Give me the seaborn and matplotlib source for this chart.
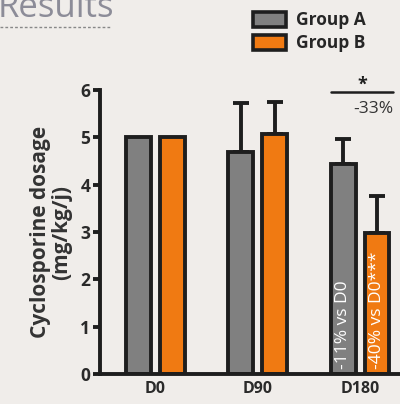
import matplotlib
matplotlib.use('Agg')
import matplotlib.pyplot as plt
import matplotlib.patches as mpatches
import seaborn as sns
import pandas as pd

# data
days = ['D0', 'D90', 'D180']
group_a = [5.0, 4.69, 4.44]
group_b = [5.0, 5.07, 2.98]
err_a = [0.0, 1.04, 0.53]
err_b = [0.0, 0.68, 0.78]
groups = ['Group A', 'Group B']

background = '#f0edea'
edge = '#1e1e1e'
colors = {'Group A': '#808080', 'Group B': '#f07a12'}

sns.set_style('ticks')
plt.rcParams['font.family'] = ['Open Sans', 'DejaVu Sans']

df = pd.DataFrame({
    'day': days * 2,
    'group': ['Group A'] * 3 + ['Group B'] * 3,
    'dose': group_a + group_b,
})

fig = plt.figure(figsize=(4, 4.04), dpi=100)
fig.set_facecolor(background)
ax = fig.add_axes([0.25, 0.074, 0.75, 0.703])
ax.patch.set_facecolor(background)

sns.barplot(data=df, x='day', y='dose', hue='group', order=days,
            hue_order=groups, palette=colors, saturation=1, errorbar=None,
            width=0.66, gap=0.27, edgecolor=edge, linewidth=2.8,
            legend=False, ax=ax, zorder=2)

# upper-only error bars from the bar centres seaborn placed
for patch, top, err in zip(ax.patches, group_a + group_b, err_a + err_b):
    if err > 0:
        xc = patch.get_x() + patch.get_width() / 2
        ax.errorbar(xc, top, yerr=[[0], [err]], fmt='none', ecolor=edge,
                    elinewidth=2.8, capsize=5.5, capthick=2.8, zorder=1)

ax.set_ylim(0, 6)
ax.set_xlim(-0.54, 2.39)
ax.set_xlabel('')
ax.set_ylabel('Cyclosporine dosage\n(mg/kg/j)', fontsize=15,
              fontweight='bold', color='#333333', labelpad=6, linespacing=1.0)
ax.set_yticks(range(7))
ax.tick_params(axis='y', width=2.8, length=5, labelsize=12.5, colors=edge, pad=2)
ax.tick_params(axis='x', length=0, labelsize=11.5, pad=5)
for lab in ax.get_yticklabels() + ax.get_xticklabels():
    lab.set_fontweight('bold')
    lab.set_color('#2a2a2a')
for side in ['left', 'bottom']:
    ax.spines[side].set_linewidth(2.8)
    ax.spines[side].set_color(edge)
ax.spines['top'].set_visible(False)
ax.spines['right'].set_visible(False)

# labels inside the D180 bars
pa, pb = ax.patches[2], ax.patches[5]
ax.text(pa.get_x() + pa.get_width() / 2, 0.1, '-11% vs D0', rotation=90,
        color='white', fontsize=12.5, ha='center', va='bottom')
ax.text(pb.get_x() + pb.get_width() / 2, 0.1, '-40% vs D0***', rotation=90,
        color='white', fontsize=12.5, ha='center', va='bottom')

# significance bracket
x0 = pa.get_x() + 0.0
x1 = pb.get_x() + pb.get_width() + 0.04
ax.plot([x0, x1], [5.97, 5.97], color=edge, lw=1.8, clip_on=False)
ax.text((x0 + x1) / 2, 6.12, '*', ha='center', va='center', fontsize=13,
        color=edge, fontweight='bold')
ax.text(x1, 5.6, '-33%', ha='right', va='center', fontsize=12.5, color='#333333')

# legend
handles = [mpatches.Patch(facecolor=colors[g], edgecolor=edge, linewidth=2.6, label=g)
           for g in groups]
fig.legend(handles=handles, loc='upper left', bbox_to_anchor=(0.615, 0.99),
           frameon=False, prop={'weight': 'bold', 'size': 12.5},
           handlelength=1.9, handleheight=0.95, handletextpad=0.6,
           labelspacing=0.3, borderaxespad=0)

# cropped section header
fig.text(-0.005, 0.958, 'Results', fontsize=25, color='#8c8c98',
         va='baseline', ha='left')
fig.add_artist(plt.Line2D([0, 0.275], [0.933, 0.933], transform=fig.transFigure,
                          color='#888888', lw=1, ls=(0, (2, 1.5))))

plt.savefig('out.png', dpi=100, facecolor=background)
